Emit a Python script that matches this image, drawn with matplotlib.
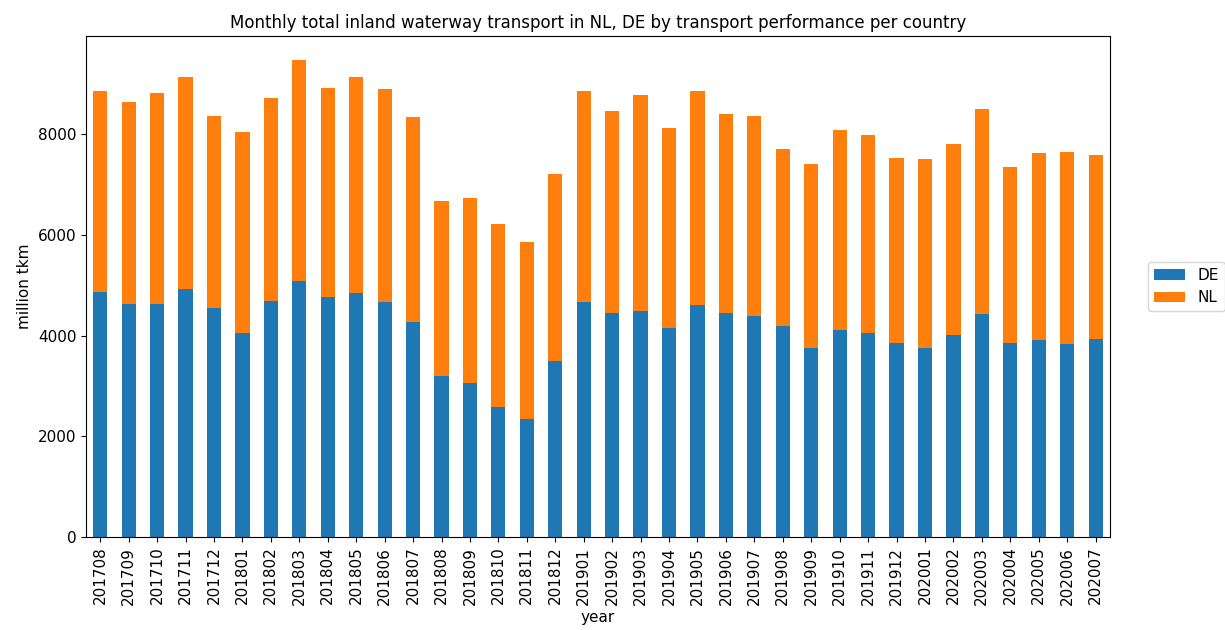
import matplotlib
matplotlib.use('Agg')
import matplotlib.pyplot as plt
import numpy as np

months = ['201708', '201709', '201710', '201711', '201712', '201801', '201802', '201803',
          '201804', '201805', '201806', '201807', '201808', '201809', '201810', '201811',
          '201812', '201901', '201902', '201903', '201904', '201905', '201906', '201907',
          '201908', '201909', '201910', '201911', '201912', '202001', '202002', '202003',
          '202004', '202005', '202006', '202007']

de = [4870, 4626, 4626, 4930, 4547, 4050, 4692, 5090, 4760, 4845, 4666, 4268,
      3201, 3050, 2585, 2340, 3500, 4666, 4453, 4487, 4143, 4606, 4453, 4394,
      4189, 3745, 4116, 4050, 3851, 3745, 4004, 4421, 3845, 3910, 3825, 3936]

total = [8860, 8630, 8815, 9133, 8370, 8046, 8715, 9477, 8926, 9133, 8900, 8350,
         6668, 6734, 6223, 5853, 7217, 8860, 8450, 8775, 8131, 8860, 8410, 8370,
         7714, 7410, 8079, 7986, 7529, 7502, 7801, 8503, 7350, 7622, 7648, 7582]

nl = [t - d for t, d in zip(total, de)]

fig = plt.figure(figsize=(12.25, 6.3), dpi=100)
ax = fig.add_axes([0.0702, 0.1476, 0.8358, 0.7954])

x = np.arange(len(months))
ax.bar(x, de, width=0.5, color='#1f77b4', label='DE')
ax.bar(x, nl, width=0.5, bottom=de, color='#ff7f0e', label='NL')

ax.set_xlim(-0.5, len(months) - 0.5)
ax.set_ylim(0, max(total) * 1.05)
ax.set_xticks(x)
ax.set_xticklabels(months, rotation=90, fontsize=11)
ax.set_yticks([0, 2000, 4000, 6000, 8000])
ax.tick_params(axis='y', labelsize=11)
ax.set_xlabel('year', fontsize=11)
ax.set_ylabel('million tkm', fontsize=11)
ax.set_title('Monthly total inland waterway transport in NL, DE by transport performance per country',
             fontsize=12)
ax.legend(loc='center left', bbox_to_anchor=(1.03, 0.5), fontsize=11)

plt.savefig('out.png', dpi=100)
